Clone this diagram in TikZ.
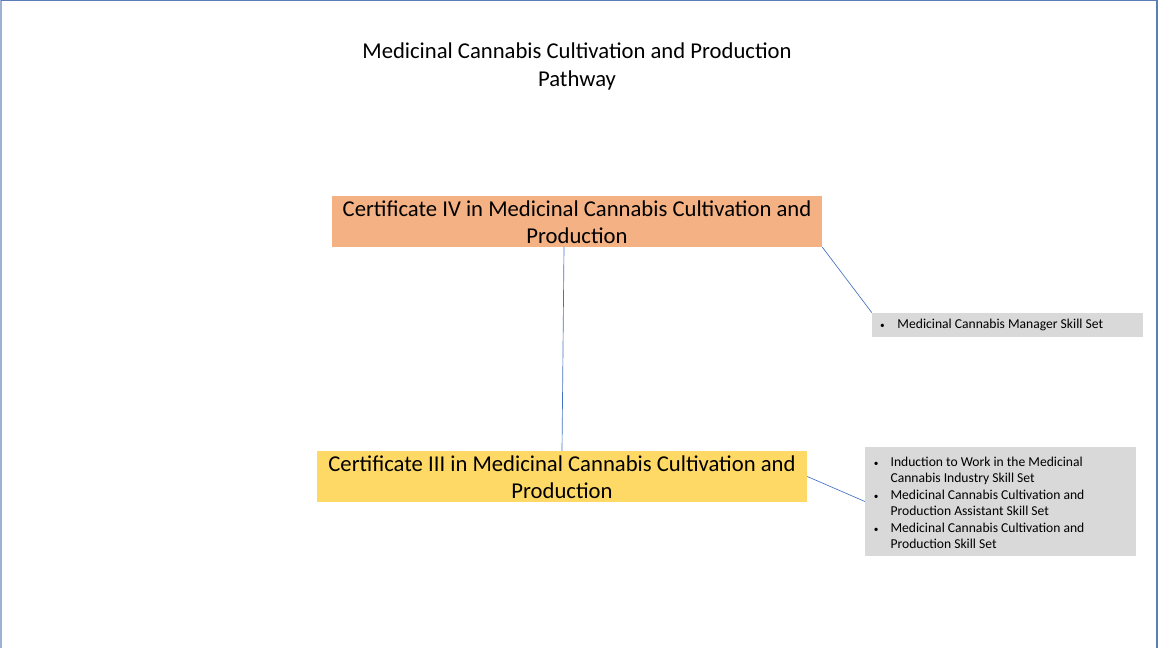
\documentclass[tikz,border=0pt]{standalone}
\usepackage{fontspec}
\setmainfont{Carlito}
\usepackage{xcolor}
\definecolor{certfour}{HTML}{F4B183}
\definecolor{certthree}{HTML}{FFD966}
\definecolor{skillgray}{HTML}{D9D9D9}
\definecolor{linkblue}{HTML}{4472C4}
\definecolor{frameblue}{HTML}{5B7DB5}
\newcommand{\skillbullet}{{\fontsize{7}{7}\selectfont\textbullet}}

\begin{document}
\begin{tikzpicture}
[
  x=0.75pt, y=-0.75pt,
  title/.style  = {align=center, font=\fontsize{17}{21}\selectfont},
  cert/.style   = {shape=rectangle, inner sep=0pt, minimum width=367.5pt,
                   minimum height=38pt, align=center,
                   font=\fontsize{17}{20.3}\selectfont},
  skill/.style  = {shape=rectangle, fill=skillgray, inner sep=0pt,
                   minimum width=203pt, font=\fontsize{10.2}{12.4}\selectfont},
  link/.style   = {draw=linkblue, line width=0.5pt}
]
\useasboundingbox (0,0) rectangle (1158,648);
% page frame
\draw [frameblue!60, line width=1.5pt] (1,648) -- (1,0.5);
\draw [frameblue, line width=1.2pt] (1,0.5) -- (1157,0.5) -- (1157,648);

\node [title] (title) at (577,66)
  {Medicinal Cannabis Cultivation and Production\\Pathway};

\node [cert, fill=certfour] (cert4) at (577,221.5)
  {\rule{0pt}{12.5pt}Certificate IV in Medicinal Cannabis Cultivation and\\Production};
\node [cert, fill=certthree] (cert3) at (562,476.5)
  {\rule{0pt}{12.5pt}Certificate III in Medicinal Cannabis Cultivation and\\Production};

\node [skill, minimum height=18pt] (skill4) at (1007.5,325)
  {\makebox[203pt][l]{\hspace*{6pt}\skillbullet\hspace{9.5pt}Medicinal Cannabis Manager Skill Set}};
\node [skill, minimum height=82pt] (skill3) at (1000.5,501.5)
  {\begin{tabular}{@{\hspace{6pt}}l@{\hspace{9pt}}l@{}}
    \skillbullet & \rule{0pt}{12.7pt}Induction to Work in the Medicinal\\
                 & Cannabis Industry Skill Set\\
    \skillbullet & Medicinal Cannabis Cultivation and\\
                 & Production Assistant Skill Set\\
    \skillbullet & Medicinal Cannabis Cultivation and\\
                 & Production Skill Set
  \end{tabular}\hspace*{38pt}};

% connectors
\draw [link] ([xshift=-9.75pt]cert4.south) -- (cert3.north);
\draw [link] (cert4.south east) -- (skill4.north west);
\draw [link] (cert3.east) -- (skill3.west);
\end{tikzpicture}
\end{document}
